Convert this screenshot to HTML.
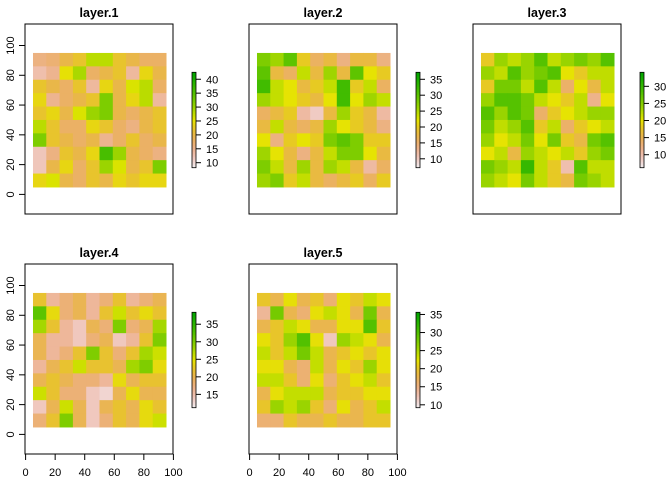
<!DOCTYPE html>
<html><head><meta charset="utf-8"><style>
body{margin:0;background:#fff}
svg{display:block;font-family:"Liberation Sans",Arial,sans-serif}
</style></head><body>
<svg id="chart" width="672" height="480" viewBox="0 0 672 480"></svg>
<script>
const layerNames = ["layer.1","layer.2","layer.3","layer.4","layer.5"];
const axisTicks = [0,20,40,60,80,100];
const legendMin = [8.2,7.2,6.2,11.2,9.2];
const legendMax = [42.5,37.2,34.1,38.4,35.6];
const legendTicks = [[10,15,20,25,30,35,40],[10,15,20,25,30,35],[10,15,20,25,30],[15,20,25,30,35],[10,15,20,25,30,35]];
const layer1 = [
[16,17,20,22,28,28,22,20,18,18],
[13,15,25,29,18,20,22,14,24,20],
[22,20,18,22,14,24,20,26,28,18],
[24,15,18,20,22,32,20,24,28,14],
[22,24,20,26,30,32,20,18,20,22],
[28,22,18,18,24,22,18,16,20,22],
[32,22,20,18,20,15,18,22,18,20],
[12,16,22,20,24,36,30,20,18,16],
[12,20,24,18,22,30,26,20,22,32],
[24,26,20,18,22,20,24,22,24,24]];
const layer2 = [
[28,26,30,20,16,18,14,18,18,14],
[30,18,16,24,18,26,18,30,22,20],
[32,24,22,18,20,24,32,20,24,16],
[26,24,22,20,18,22,32,22,26,24],
[16,18,20,12,10,18,26,20,18,12],
[18,24,18,16,18,26,22,20,18,14],
[22,14,20,22,20,28,30,28,20,20],
[26,22,18,14,18,24,28,28,22,18],
[28,24,18,26,18,26,24,18,12,16],
[26,28,20,24,18,16,18,20,16,20]];
const layer3 = [
[18,24,22,24,28,22,24,26,24,28],
[24,22,28,24,26,28,20,18,22,22],
[18,26,26,22,28,22,14,20,16,22],
[24,28,28,26,22,20,18,22,12,20],
[28,24,28,26,14,18,20,22,24,24],
[26,22,24,28,18,22,14,18,20,22],
[24,20,22,26,20,26,18,16,26,28],
[20,22,16,24,22,20,22,18,24,26],
[26,24,22,30,22,18,10,28,22,22],
[24,22,20,26,22,18,16,26,24,22]];
const layer4 = [
[22,16,18,20,16,18,22,16,18,20],
[32,24,18,20,16,22,26,22,24,22],
[28,22,16,14,20,18,30,18,20,28],
[20,16,16,14,18,20,14,16,22,30],
[20,16,18,22,30,22,18,22,28,26],
[16,20,22,26,22,22,20,28,30,24],
[20,22,20,18,18,16,24,20,22,22],
[26,22,18,18,14,13,20,24,20,20],
[14,20,26,20,14,20,22,20,24,22],
[18,22,30,20,14,18,22,20,24,26]];
const layer5 = [
[20,18,22,18,20,16,22,20,24,22],
[14,28,18,16,22,24,22,18,28,18],
[18,20,24,22,18,18,22,22,30,20],
[22,20,26,30,22,12,26,24,22,18],
[24,20,24,28,24,18,20,22,20,22],
[22,22,18,16,24,18,22,20,26,22],
[24,24,20,16,22,16,20,22,24,20],
[18,22,24,24,24,18,20,20,22,22],
[20,26,24,26,20,16,22,18,20,24],
[16,16,20,18,18,20,18,18,20,20]];
const layerValues = [layer1,layer2,layer3,layer4,layer5];

const NS="http://www.w3.org/2000/svg";
const svg=document.getElementById('chart');
function mk(tag,attrs,parent){const e=document.createElementNS(NS,tag);for(const k in attrs)e.setAttribute(k,attrs[k]);(parent||svg).appendChild(e);return e;}
function hsv(h,s,v){const i=Math.floor(h*6),f=h*6-i,p=v*(1-s),q=v*(1-f*s),t=v*(1-(1-f)*s);let r,g,b;switch(i%6){case 0:r=v;g=t;b=p;break;case 1:r=q;g=v;b=p;break;case 2:r=p;g=v;b=t;break;case 3:r=p;g=q;b=v;break;case 4:r=t;g=p;b=v;break;default:r=v;g=p;b=q;}return `rgb(${Math.round(r*255)},${Math.round(g*255)},${Math.round(b*255)})`;}
function color(t){t=Math.max(0,Math.min(1,t));const u=1-t;if(u<0.5){const s=u/0.5;return hsv(4/12-2/12*s,1,0.65+0.25*s);}const w=(u-0.5)/0.5;return hsv(2/12*(1-w),1-w,0.9+0.05*w);}

const colX=[0,224,448], rowY=[0,240];
layerNames.forEach((name,li)=>{
  const ox=colX[li%3], oy=rowY[Math.floor(li/3)];
  const sx=v=>ox+25.6+1.478*v, sy=v=>oy+194.4-1.489*v;
  const g=mk('g',{});
  
  
  const t=mk('text',{x:ox+99,y:oy+17,'text-anchor':'middle','font-size':'12.5','font-weight':'bold',fill:'#000'},g);
  t.textContent=name;
  
  
  const vals=layerValues[li], n=vals.length, step=90/n;
  const mn=legendMin[li], mx=legendMax[li];
  vals.forEach((row,r)=>row.forEach((v,c)=>{
    const x0=sx(5+c*step), x1=sx(5+(c+1)*step), y0=sy(95-r*step), y1=sy(95-(r+1)*step);
    const cell=mk('rect',{x:x0,y:y0,width:x1-x0+0.5,height:y1-y0+0.5,fill:color((v-mn)/(mx-mn))},g);
    
    
  }));
  const box=mk('rect',{x:ox+25,y:oy+24,width:148,height:190,fill:'none',stroke:'#000','stroke-width':1},g);
  
  
  if(li%3===0){
    axisTicks.forEach(v=>{
      mk('line',{x1:ox+19,x2:ox+25,y1:sy(v),y2:sy(v),stroke:'#000'},g);
      const lb=mk('text',{x:ox+14,y:sy(v),'font-size':'11','text-anchor':'middle',fill:'#000',transform:`rotate(-90 ${ox+14} ${sy(v)})`},g);
      lb.textContent=v;
      
      
    });
    mk('line',{x1:ox+25,x2:ox+25,y1:sy(0),y2:sy(100),stroke:'#000'},g);
  }
  if(li>=3){
    axisTicks.forEach(v=>{
      mk('line',{x1:sx(v),x2:sx(v),y1:oy+214,y2:oy+220,stroke:'#000'},g);
      const lb=mk('text',{x:sx(v),y:oy+236,'font-size':'11','text-anchor':'middle',fill:'#000'},g);
      lb.textContent=v;
      
      
    });
    mk('line',{x1:sx(0),x2:sx(100),y1:oy+214,y2:oy+214,stroke:'#000'},g);
  }
  // legend
  const ly0=oy+72.3, ly1=oy+167.7, ly=v=>ly1-(v-mn)/(mx-mn)*(ly1-ly0);
  const lg=mk('g',{},g);
  
  
  const N=60;
  for(let i=0;i<N;i++){
    const a=mn+(mx-mn)*i/N, b=mn+(mx-mn)*(i+1)/N;
    mk('rect',{x:ox+192,y:ly(b),width:4,height:ly(a)-ly(b)+0.4,fill:color((a+b)/2/1===0?0:((a+b)/2-mn)/(mx-mn))},lg);
  }
  mk('rect',{x:ox+192,y:ly0,width:4,height:ly1-ly0,fill:'none',stroke:'#000','stroke-width':0.8},lg);
  legendTicks[li].forEach(v=>{
    mk('line',{x1:ox+196,x2:ox+201,y1:ly(v),y2:ly(v),stroke:'#000'},lg);
    const lb=mk('text',{x:ox+206,y:ly(v)+4,'font-size':'11',fill:'#000'},lg);
    lb.textContent=v;
    
    
  });
});
</script>
</body></html>
